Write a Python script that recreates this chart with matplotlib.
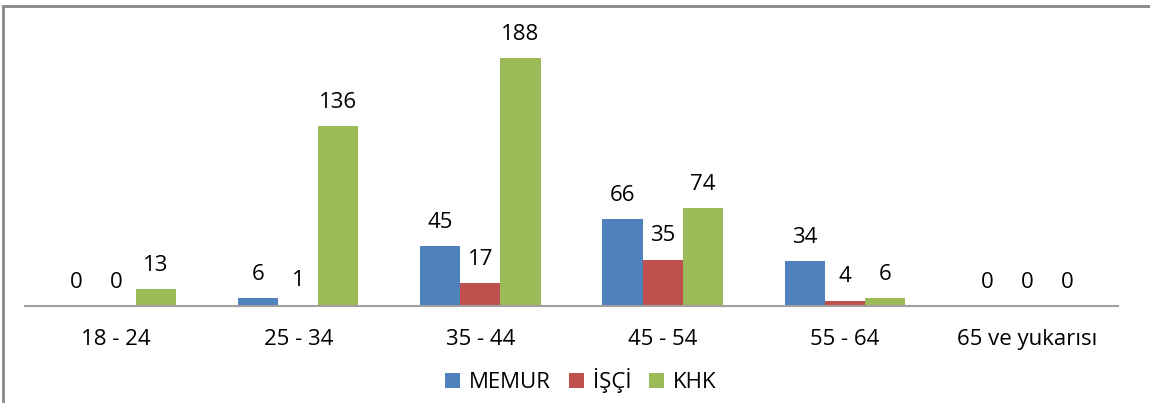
import numpy as np
import matplotlib
matplotlib.use('Agg')
import matplotlib.pyplot as plt
from matplotlib.patches import Rectangle

categories = ['18 - 24', '25 - 34', '35 - 44', '45 - 54', '55 - 64', '65 ve yukarısı']
memur = [0, 6, 45, 66, 34, 0]
isci = [0, 1, 17, 35, 4, 0]
khk = [13, 136, 188, 74, 6, 0]

series = [('MEMUR', memur, '#4F81BD'), ('İŞÇİ', isci, '#C0504D'), ('KHK', khk, '#9BBB59')]

plt.rcParams['font.family'] = ['Open Sans', 'DejaVu Sans']

fig = plt.figure(figsize=(11.5, 4.03), dpi=100)
ax = fig.add_axes([0.0217, 0.241, 0.9505, 0.655])

x = np.arange(len(categories))
w = 0.22
for i, (name, vals, col) in enumerate(series):
    bars = ax.bar(x + (i - 1) * w, vals, w, color=col, label=name)
    for b, v in zip(bars, vals):
        ax.text(b.get_x() + b.get_width() / 2, v + 10, str(v),
                ha='center', va='bottom', fontsize=16)

ax.set_xlim(-0.5, len(categories) - 0.5)
ax.set_ylim(0, 200)
ax.set_xticks(x)
ax.set_xticklabels(categories, fontsize=16)
ax.tick_params(axis='x', length=0, pad=17)
ax.set_yticks([])
for s in ['top', 'right', 'left']:
    ax.spines[s].set_visible(False)
ax.spines['bottom'].set_color('#A0A0A0')
ax.spines['bottom'].set_linewidth(1.5)

fig.legend(loc='lower center', bbox_to_anchor=(0.505, -0.025), ncol=3, frameon=False,
           fontsize=16, handlelength=0.68, handleheight=0.68, handletextpad=0.4,
           columnspacing=0.8)

# chart frame (only left and top edges visible in the image)
fig.patches.append(Rectangle((0.0026, -0.1), 1.2, 1.085, transform=fig.transFigure,
                             fill=False, edgecolor='#888888', linewidth=2))

fig.savefig('out.png', dpi=100)
